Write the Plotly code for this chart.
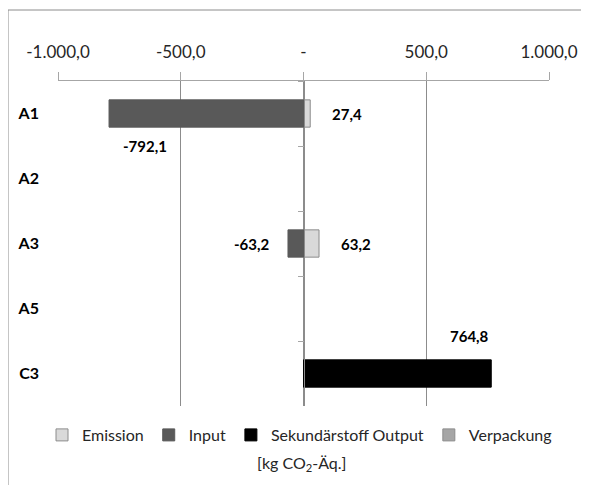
import plotly.graph_objects as go

categories = ["A1", "A2", "A3", "A5", "C3"]
emission = [27.4, None, 63.2, None, None]
input_vals = [-792.1, None, -63.2, None, None]
sekundaer = [None, None, None, None, 764.8]
verpackung = [None, None, None, None, None]

tick_vals = [-1000, -500, 0, 500, 1000]
tick_text = ["-1.000,0", "-500,0", "-", "500,0", "1.000,0"]

FONT = "Lato"
OFF = 8  # page body margin
W, H = 589 - OFF, 485 - OFF
PL, PR, PT, PB = 58, 549, 81, 406  # plot area in page pixels
L, R, T, B = PL - OFF, W - (PR - OFF), PT - OFF, H - (PB - OFF)
pw, ph = PR - PL, PB - PT
cat_range = [len(categories) - 0.5, -0.5]  # reversed, A1 on top


def px(xp):
    return (xp - PL) / pw


def py(yp):
    return (PB - yp) / ph


fig = go.Figure()
fig.add_trace(go.Bar(y=categories, x=emission, name="Emission", orientation="h",
                     marker=dict(color="#D9D9D9", line=dict(color="#8C8C8C", width=1))))
fig.add_trace(go.Bar(y=categories, x=input_vals, name="Input", orientation="h",
                     marker=dict(color="#595959", line=dict(color="#595959", width=1))))
fig.add_trace(go.Bar(y=categories, x=sekundaer, name="Sekundärstoff Output", orientation="h",
                     marker=dict(color="#000000", line=dict(color="#000000", width=1))))
fig.add_trace(go.Bar(y=categories, x=verpackung, name="Verpackung", orientation="h",
                     marker=dict(color="#A6A6A6", line=dict(color="#8C8C8C", width=1))))

# invisible trace for the vertical axis at zero
fig.add_trace(go.Scatter(y=categories, x=[0] * len(categories), yaxis="y2", mode="markers",
                         marker=dict(opacity=0), showlegend=False, hoverinfo="skip"))


def fmt(v):
    s = f"{abs(v):,.1f}".replace(",", "X").replace(".", ",").replace("X", ".")
    return ("-" if v < 0 else "") + s


# label placement styles per series: (xanchor, xshift, yshift); A1 input sits below its bar
label_series = [
    (emission, ("left", 20, 0)),
    (input_vals, ("right", -16, 0)),
    (sekundaer, ("right", 0, 38)),
]
special = {("A1", "neg"): ("left", 12, -32)}
label_font = dict(family=FONT, size=15, color="#000")
annotations = []
for series, style in label_series:
    for cat, v in zip(categories, series):
        if v is None:
            continue
        xa, xs, ys = special.get((cat, "neg" if v < 0 else "pos"), style)
        annotations.append(dict(x=v, y=cat, text=f"<b>{fmt(v)}</b>", showarrow=False,
                                xanchor=xa, xshift=xs, yshift=ys, font=label_font))

annotations.append(dict(xref="paper", yref="paper", x=px(301), y=py(463),
                        text="[kg CO<sub>2</sub>-Äq.]", showarrow=False,
                        xanchor="center", yanchor="middle",
                        font=dict(family=FONT, size=16, color="#262626")))

shapes = [dict(type="rect", xref="paper", yref="paper",
               x0=px(8), x1=px(640), y0=py(540), y1=py(10),
               line=dict(color="#8C8C8C", width=1), fillcolor="rgba(0,0,0,0)", layer="below")]

fig.update_layout(
    width=W, height=H,
    margin=dict(l=L, r=R, t=T, b=B, autoexpand=False),
    paper_bgcolor="white", plot_bgcolor="white",
    barmode="relative", bargap=0.58,
    font=dict(family=FONT, size=16, color="#262626"),
    showlegend=True,
    legend=dict(orientation="h", x=px(42), xanchor="left",
                y=py(435), yanchor="middle",
                font=dict(family=FONT, size=16, color="#262626"),
                itemwidth=30, tracegroupgap=0),
    annotations=annotations,
    shapes=shapes,
    xaxis=dict(side="top", range=[-1000, 1000], tickvals=tick_vals, ticktext=tick_text,
               showgrid=True, gridcolor="#8C8C8C", gridwidth=1,
               showline=True, linecolor="#A6A6A6", linewidth=1,
               ticks="outside", ticklen=8, tickcolor="#A6A6A6", ticklabelstandoff=7,
               zeroline=False, tickfont=dict(family=FONT, size=17, color="#262626")),
    yaxis=dict(categoryorder="array", categoryarray=categories, range=cat_range,
               autorange=False,
               showgrid=False, zeroline=False, showline=False, ticks="",
               ticklabelstandoff=18,
               tickfont=dict(family=FONT, size=16, color="#000", weight="bold")),
    yaxis2=dict(overlaying="y", anchor="free", position=0.5, side="left",
                categoryorder="array", categoryarray=categories, range=cat_range,
                autorange=False,
                showline=True, linecolor="#8C8C8C", linewidth=1,
                ticks="outside", ticklen=6, tickcolor="#A6A6A6", tickson="boundaries",
                showticklabels=False, showgrid=False, zeroline=False),
)

fig.write_html("out.html")
